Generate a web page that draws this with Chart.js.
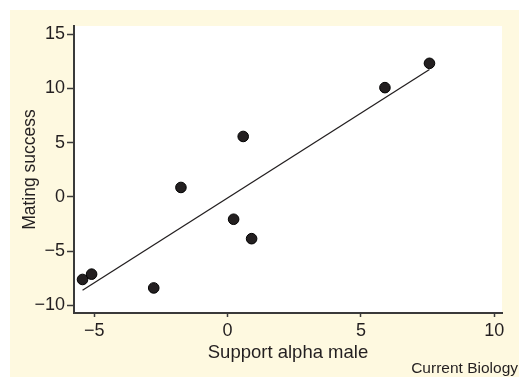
<!DOCTYPE html>
<html>
<head>
<meta charset="utf-8">
<script src="https://cdn.jsdelivr.net/npm/chart.js@4"></script>
<style>
  html, body { margin: 0; padding: 0; background: #fff; }
  canvas { display: block; }
</style>
</head>
<body>
<canvas id="chart" width="519" height="377"></canvas>
<script>
  // values
  const supportAlpha = [-5.44, -5.1, -2.77, -1.75, 0.225, 0.585, 0.9, 5.9, 7.57];
  const matingSuccess = [-7.62, -7.13, -8.4, 0.86, -2.07, 5.56, -3.86, 10.06, 12.3];
  const fitX = [-5.44, 7.57];
  const fitY = [-8.61, 11.73];
  const xTicks = [-5, 0, 5, 10];
  const yTicks = [-10, -5, 0, 5, 10, 15];

  const ink = '#231f20';
  const fontFamily = "'Liberation Sans', Arial, Helvetica, sans-serif";

  function fmt(v) { return v < 0 ? '\u2212' + Math.abs(v) : String(v); }

  const background = {
    id: 'background',
    beforeDraw(chart) {
      const { ctx, chartArea } = chart;
      ctx.save();
      ctx.fillStyle = '#fef9e0';
      ctx.fillRect(10, 10, 509, 367);
      ctx.fillStyle = '#ffffff';
      ctx.fillRect(chartArea.left, chartArea.top, chartArea.right - chartArea.left, chartArea.bottom - chartArea.top);
      ctx.restore();
    },
    afterDraw(chart) {
      const ctx = chart.ctx;
      ctx.save();
      ctx.fillStyle = ink;
      ctx.font = '15.5px ' + fontFamily;
      ctx.textAlign = 'right';
      ctx.textBaseline = 'alphabetic';
      ctx.fillText('Current Biology', 518, 373);
      ctx.restore();
    }
  };

  new Chart(document.getElementById('chart'), {
    type: 'scatter',
    data: {
      datasets: [
        {
          type: 'line',
          data: fitX.map((x, i) => ({ x, y: fitY[i] })),
          borderColor: ink,
          borderWidth: 1.3,
          pointRadius: 0,
          fill: false
        },
        {
          data: supportAlpha.map((x, i) => ({ x, y: matingSuccess[i] })),
          backgroundColor: ink,
          borderColor: '#000',
          borderWidth: 1,
          pointRadius: 5.3
        }
      ]
    },
    options: {
      responsive: false,
      animation: false,
      layout: { padding: { top: 26, right: 17, left: 0, bottom: 0 } },
      plugins: { legend: { display: false }, tooltip: { enabled: false } },
      scales: {
        x: {
          type: 'linear',
          min: -5.76,
          max: 10.29,
          afterBuildTicks: s => { s.ticks = xTicks.map(v => ({ value: v })); },
          afterFit: s => { s.height = 64; },
          grid: { drawOnChartArea: false, drawTicks: true, tickLength: 4, tickColor: '#3a3a3a', tickWidth: 1.5 },
          border: { display: true, color: '#3a3a3a', width: 2 },
          ticks: { color: ink, font: { family: fontFamily, size: 18 }, padding: 3, callback: v => fmt(v) },
          title: { display: true, text: 'Support alpha male', color: ink, font: { family: fontFamily, size: 18.5 }, padding: { top: 0, bottom: 13 } }
        },
        y: {
          type: 'linear',
          min: -10.71,
          max: 15.74,
          afterBuildTicks: s => { s.ticks = yTicks.map(v => ({ value: v })); },
          afterFit: s => { s.width = 74; },
          grid: { drawOnChartArea: false, drawTicks: true, tickLength: 7, tickColor: '#3a3a3a', tickWidth: 1.5 },
          border: { display: true, color: '#3a3a3a', width: 2 },
          ticks: { color: ink, font: { family: fontFamily, size: 18 }, padding: 2, callback: v => fmt(v) },
          title: { display: true, text: 'Mating success', color: ink, font: { family: fontFamily, size: 17.5 }, padding: { top: 20, bottom: 0 } }
        }
      }
    },
    plugins: [background]
  });
</script>
</body>
</html>
